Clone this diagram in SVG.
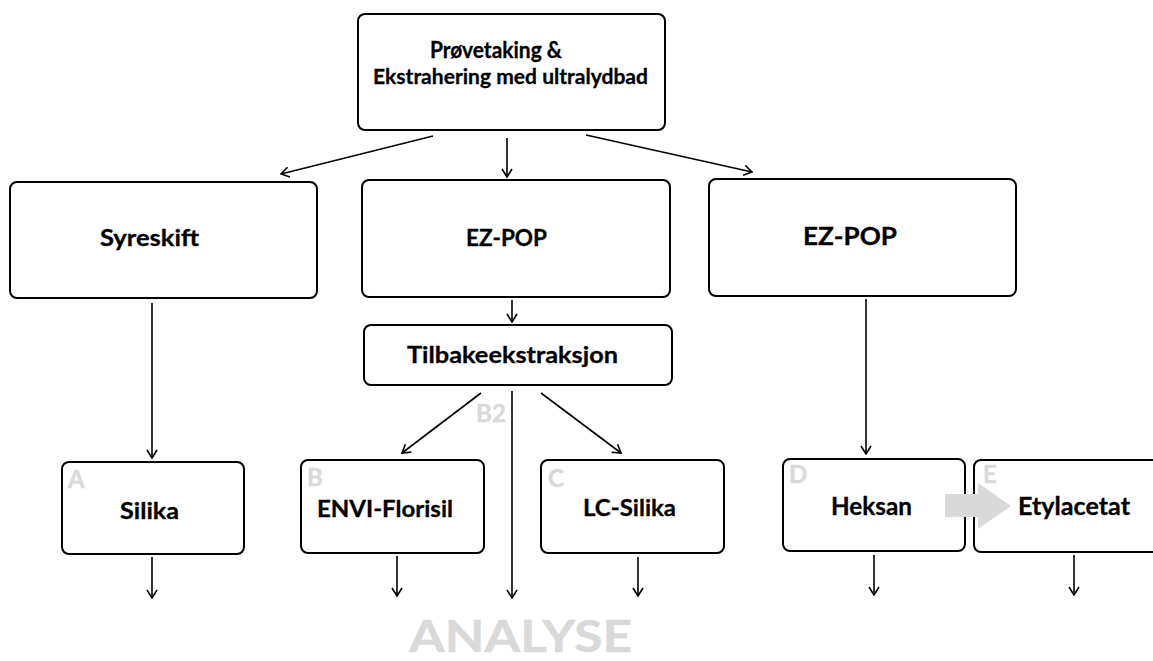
<svg xmlns="http://www.w3.org/2000/svg" width="1153" height="661" viewBox="0 0 1153 661">
<defs>
<style>
.box{fill:#fff;stroke:#000;stroke-width:2}
.t{font-family:Lato,"Open Sans","Liberation Sans",sans-serif;font-weight:700;fill:#000;stroke:#000;stroke-width:0.3}
.g{font-family:Lato,"Open Sans","Liberation Sans",sans-serif;font-weight:700;fill:#d9d9d9;stroke:#d9d9d9;stroke-width:0.4}
.c{stroke:#000;stroke-width:1.6;fill:none;marker-end:url(#ah)}
</style>
<marker id="ah" markerUnits="userSpaceOnUse" viewBox="0 0 10 12" markerWidth="10" markerHeight="12" refX="9" refY="6" orient="auto">
<path d="M1,1 L9,6 L1,11" fill="none" stroke="#000" stroke-width="1.6"/>
</marker>
</defs>
<rect width="1153" height="661" fill="#fff"/>

<g id="connectors">
<line class="c" x1="433" y1="136" x2="281" y2="174"/>
<line class="c" x1="507" y1="138" x2="507" y2="177"/>
<line class="c" x1="586" y1="135" x2="752" y2="172"/>
<line class="c" x1="152" y1="303" x2="152" y2="458"/>
<line class="c" x1="512" y1="300" x2="512" y2="322"/>
<line class="c" x1="866" y1="299" x2="866" y2="454"/>
<line class="c" x1="481" y1="393" x2="402" y2="453"/>
<line class="c" x1="512" y1="391" x2="512" y2="598"/>
<line class="c" x1="541" y1="393" x2="621" y2="453"/>
<line class="c" x1="152" y1="557" x2="152" y2="598"/>
<line class="c" x1="397" y1="556" x2="397" y2="596"/>
<line class="c" x1="638" y1="557" x2="638" y2="596"/>
<line class="c" x1="874" y1="555" x2="874" y2="595"/>
<line class="c" x1="1074" y1="555" x2="1074" y2="595"/>
</g>

<g id="n-top">
<rect class="box" x="358" y="14" width="307" height="116" rx="7"/>
<text class="t" x="430" y="58" font-size="22" textLength="132" lengthAdjust="spacingAndGlyphs">Prøvetaking &amp;</text>
<text class="t" x="373" y="84" font-size="21" textLength="275" lengthAdjust="spacingAndGlyphs">Ekstrahering med ultralydbad</text>
</g>

<g id="n-syreskift">
<rect class="box" x="10" y="182" width="307" height="116" rx="7"/>
<text class="t" x="100" y="246" font-size="23" textLength="99" lengthAdjust="spacingAndGlyphs">Syreskift</text>
</g>

<g id="n-ezpop1">
<rect class="box" x="362" y="180" width="308" height="117" rx="7"/>
<text class="t" x="466" y="246" font-size="23" textLength="81" lengthAdjust="spacingAndGlyphs">EZ-POP</text>
</g>

<g id="n-ezpop2">
<rect class="box" x="709" y="179" width="307" height="117" rx="7"/>
<text class="t" x="803" y="245" font-size="25" textLength="94" lengthAdjust="spacingAndGlyphs">EZ-POP</text>
</g>

<g id="n-tilbake">
<rect class="box" x="364" y="325" width="308" height="60" rx="7"/>
<text class="t" x="407" y="363" font-size="23" textLength="211" lengthAdjust="spacingAndGlyphs">Tilbakeekstraksjon</text>
</g>

<g id="n-b2">
<text class="g" x="476" y="422" font-size="24" textLength="30" lengthAdjust="spacingAndGlyphs">B2</text>
</g>

<g id="n-silika">
<rect class="box" x="62" y="462" width="182" height="92" rx="7"/>
<text class="g" x="68" y="488" font-size="24">A</text>
<text class="t" x="120" y="519" font-size="23" textLength="59" lengthAdjust="spacingAndGlyphs">Silika</text>
</g>

<g id="n-envi">
<rect class="box" x="301" y="460" width="183" height="93" rx="7"/>
<text class="g" x="307" y="486" font-size="24">B</text>
<text class="t" x="317" y="517" font-size="23" textLength="136" lengthAdjust="spacingAndGlyphs">ENVI-Florisil</text>
</g>

<g id="n-lc">
<rect class="box" x="541" y="460" width="183" height="93" rx="7"/>
<text class="g" x="548" y="487" font-size="24">C</text>
<text class="t" x="583" y="516" font-size="23" textLength="93" lengthAdjust="spacingAndGlyphs">LC-Silika</text>
</g>

<g id="n-heksan">
<rect class="box" x="783" y="459" width="182" height="92" rx="7"/>
<text class="g" x="789" y="483" font-size="24">D</text>
<text class="t" x="831" y="515" font-size="24" textLength="81" lengthAdjust="spacingAndGlyphs">Heksan</text>
</g>

<g id="n-etyl">
<rect class="box" x="974" y="460" width="200" height="92" rx="7"/>
<text class="g" x="983" y="483" font-size="24">E</text>
<text class="t" x="1018" y="515" font-size="24" textLength="112" lengthAdjust="spacingAndGlyphs">Etylacetat</text>
</g>

<g id="blockarrow">
<polygon points="945,494 978,494 978,483 1011,506 978,529 978,517 945,517" fill="#d9d9d9"/>
</g>

<g id="n-analyse">
<text class="g" x="409" y="652" font-size="44" textLength="223" lengthAdjust="spacingAndGlyphs">ANALYSE</text>
</g>
</svg>
